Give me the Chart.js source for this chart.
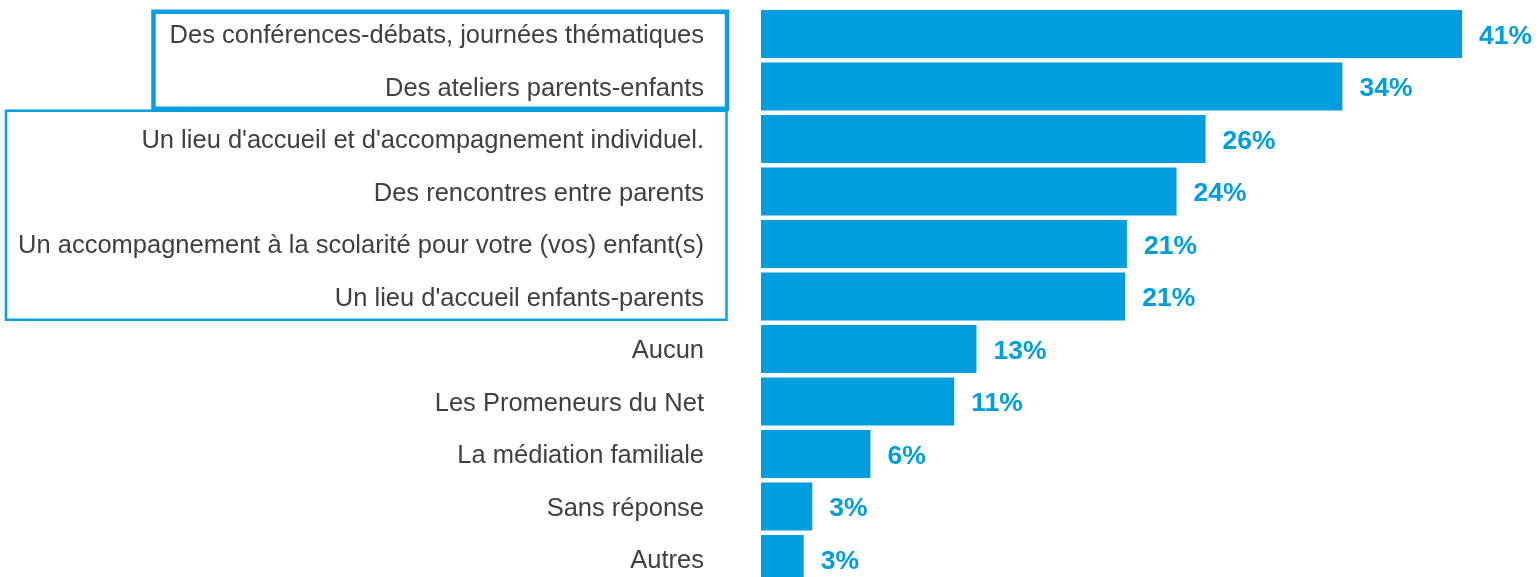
<!DOCTYPE html>
<html lang="fr">
  <head>
    <meta charset="UTF-8" />
    <title>Actions souhaitées</title>
    <script src="https://cdn.jsdelivr.net/npm/chart.js"></script>
    <style>
      html, body { margin: 0; padding: 0; background: #fff; }
      #wrap { width: 1539px; height: 577px; overflow: hidden; }
    </style>
  </head>
  <body>
    <div id="wrap">
      <canvas id="besoinsChart" width="1539" height="586"></canvas>
    </div>

    <script>
      const categories = [
        "Des conférences-débats, journées thématiques",
        "Des ateliers parents-enfants",
        "Un lieu d'accueil et d'accompagnement individuel.",
        "Des rencontres entre parents",
        "Un accompagnement à la scolarité pour votre (vos) enfant(s)",
        "Un lieu d'accueil enfants-parents",
        "Aucun",
        "Les Promeneurs du Net",
        "La médiation familiale",
        "Sans réponse",
        "Autres",
      ];
      const values = [41, 34, 26, 24.3, 21.4, 21.3, 12.6, 11.3, 6.4, 3.0, 2.5];
      const valueLabels = ["41%", "34%", "26%", "24%", "21%", "21%", "13%", "11%", "6%", "3%", "3%"];

      const blue = "#009ddf";

      // percentages at the end of each bar
      const valueLabelPlugin = {
        id: "valueLabels",
        afterDatasetsDraw(chart) {
          const ctx = chart.ctx;
          const meta = chart.getDatasetMeta(0);
          ctx.save();
          ctx.fillStyle = blue;
          ctx.font = "bold 26.5px 'Liberation Sans', Arial, sans-serif";
          ctx.textAlign = "left";
          ctx.textBaseline = "middle";
          meta.data.forEach((bar, i) => {
            ctx.fillText(valueLabels[i], bar.x + 17, bar.y + 2.5);
          });
          ctx.restore();
        },
      };

      // the two frames around groups of labels
      const framePlugin = {
        id: "frames",
        afterDraw(chart) {
          const ctx = chart.ctx;
          const y = chart.scales.y;
          const half = (y.getPixelForValue(1) - y.getPixelForValue(0)) / 2;
          ctx.save();
          ctx.strokeStyle = "#0a9fdf";

          const top2 = y.getPixelForValue(2) - half - 2;
          const bot2 = y.getPixelForValue(5) + half - 3;
          ctx.lineWidth = 2.5;
          ctx.strokeRect(6, top2, 720.5, bot2 - top2);

          const top1 = y.getPixelForValue(0) - half + 4;
          const bot1 = y.getPixelForValue(1) + half - 4;
          ctx.lineWidth = 4.5;
          ctx.strokeRect(153.5, top1, 573.5, bot1 - top1);
          ctx.restore();
        },
      };

      new Chart(document.getElementById("besoinsChart").getContext("2d"), {
        type: "bar",
        data: {
          labels: categories,
          datasets: [
            {
              data: values,
              backgroundColor: blue,
              borderWidth: 0,
              categoryPercentage: 1,
              barPercentage: 0.915,
            },
          ],
        },
        options: {
          indexAxis: "y",
          responsive: false,
          animation: false,
          layout: { padding: { top: 7.75, bottom: 0.75, left: 0, right: 8.5 } },
          plugins: {
            legend: { display: false },
            tooltip: { enabled: false },
          },
          scales: {
            x: {
              display: false,
              min: 0,
              max: 45,
            },
            y: {
              afterFit: (axis) => {
                axis.width = 761;
                axis.paddingTop = 0;
                axis.paddingBottom = 0;
              },
              grid: { display: false, drawTicks: false },
              border: { display: false },
              ticks: {
                padding: 57,
                labelOffset: 2,
                color: "#404040",
                font: { family: "'Liberation Sans', Arial, sans-serif", size: 25.5 },
              },
            },
          },
        },
        plugins: [valueLabelPlugin, framePlugin],
      });
    </script>
  </body>
</html>
